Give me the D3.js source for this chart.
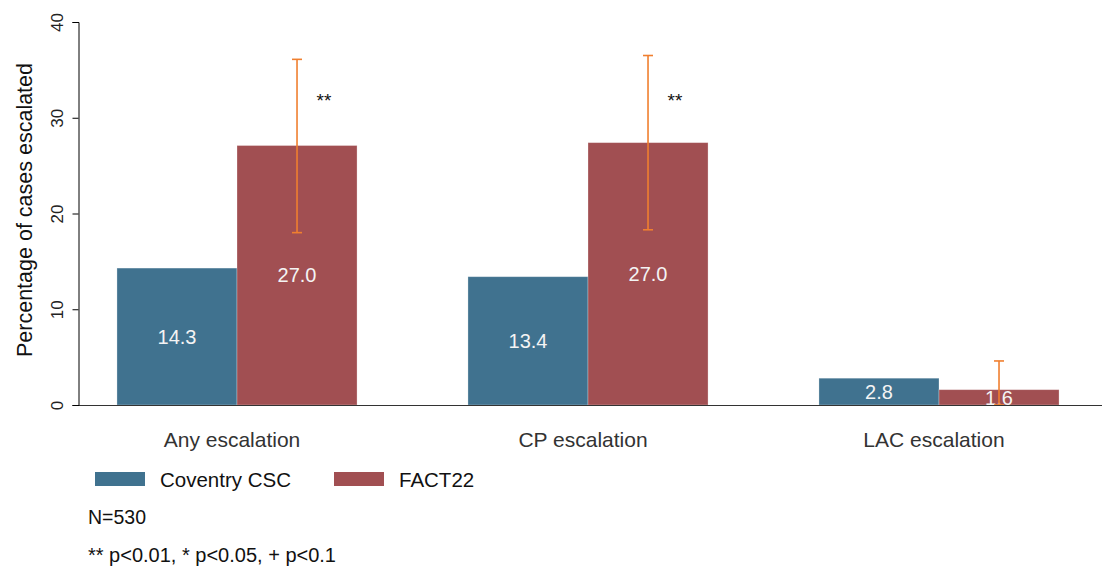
<!DOCTYPE html>
<html>
<head>
<meta charset="utf-8">
<script src="https://cdn.jsdelivr.net/npm/d3@7"></script>
<style>
  body { margin: 0; background: #fff; }
  svg { font-family: "Liberation Sans", Arial, sans-serif; }
</style>
</head>
<body>
<div id="chart"></div>
<script>
const categories = ["Any escalation", "CP escalation", "LAC escalation"];
const seriesNames = ["Coventry CSC", "FACT22"];
const coventry = [14.3, 13.4, 2.8];
const fact22 = [27.1, 27.4, 1.6];
const fact22Labels = ["27.0", "27.0", "1.6"];
const ciLow = [18.0, 18.3, 0.0];
const ciHigh = [36.1, 36.5, 4.6];
const stars = ["**", "**", ""];
const yTicks = [0, 10, 20, 30, 40];

const width = 1102;
const height = 569;
const colors = ["#40728f", "#a14f52"];

const svg = d3.select("#chart")
  .append("svg")
  .attr("width", width)
  .attr("height", height);

const y = d3.scaleLinear().domain([0, 40]).range([405, 22]);

const x = d3.scaleBand()
  .domain(categories)
  .range([78, 1098])
  .paddingInner(0.316)
  .paddingOuter(0.111);

const sub = d3.scaleBand()
  .domain(seriesNames)
  .range([0, x.bandwidth()]);

const rows = categories.map((c, i) => ({
  cat: c,
  vals: [
    { s: seriesNames[0], v: coventry[i], label: coventry[i].toFixed(1) },
    { s: seriesNames[1], v: fact22[i], label: fact22Labels[i] }
  ],
  lo: ciLow[i], hi: ciHigh[i], star: stars[i]
}));

// bars
const groups = svg.selectAll("g.grp")
  .data(rows)
  .enter()
  .append("g")
  .attr("class", "grp")
  .attr("transform", d => `translate(${x(d.cat)},0)`);

groups.selectAll("rect")
  .data(d => d.vals)
  .enter()
  .append("rect")
  .attr("x", d => sub(d.s))
  .attr("y", d => y(d.v))
  .attr("width", sub.bandwidth())
  .attr("height", d => y(0) - y(d.v))
  .attr("fill", (d, i) => colors[i])
  .attr("stroke", "#ffffff")
  .attr("stroke-opacity", 0.35)
  .attr("stroke-width", 0.8);

groups.selectAll("text.val")
  .data(d => d.vals)
  .enter()
  .append("text")
  .attr("class", "val")
  .attr("x", d => sub(d.s) + sub.bandwidth() / 2)
  .attr("y", d => (y(d.v) + y(0)) / 2)
  .attr("dy", "0.36em")
  .attr("text-anchor", "middle")
  .style("font-size", "20px")
  .style("fill", "#f4f4f4")
  .text(d => d.label);

// error bars on FACT22
const ex = sub(seriesNames[1]) + sub.bandwidth() / 2;
groups.append("line")
  .attr("x1", ex).attr("x2", ex)
  .attr("y1", d => y(d.lo)).attr("y2", d => y(d.hi))
  .attr("stroke", "#f07f2f").attr("stroke-width", 1.6);
groups.selectAll("line.cap")
  .data(d => [d.lo, d.hi])
  .enter()
  .append("line")
  .attr("class", "cap")
  .attr("x1", ex - 5).attr("x2", ex + 5)
  .attr("y1", d => y(d)).attr("y2", d => y(d))
  .attr("stroke", "#f07f2f").attr("stroke-width", 1.6);

groups.append("text")
  .attr("x", ex + 27)
  .attr("y", 107)
  .attr("text-anchor", "middle")
  .style("font-size", "19px")
  .style("fill", "#111")
  .text(d => d.star);

// x axis
svg.append("line")
  .attr("x1", 78).attr("x2", width)
  .attr("y1", y(0) + 0.5).attr("y2", y(0) + 0.5)
  .attr("stroke", "#333").attr("stroke-width", 1);

svg.selectAll("text.cat")
  .data(categories)
  .enter()
  .append("text")
  .attr("class", "cat")
  .attr("x", d => x(d) + x.bandwidth() / 2 - 5)
  .attr("y", 447)
  .attr("text-anchor", "middle")
  .style("font-size", "21px")
  .style("fill", "#333")
  .text(d => d);

// y axis
const yAxis = svg.append("g")
  .attr("transform", "translate(78.5,0)")
  .call(d3.axisLeft(y).tickValues(yTicks).tickSize(6).tickFormat(d3.format("d")));
yAxis.select(".domain").attr("stroke", "#000");
yAxis.selectAll(".tick line").attr("stroke", "#000");
yAxis.selectAll(".tick text")
  .attr("transform", "rotate(-90)")
  .attr("x", 0)
  .attr("y", -16)
  .attr("dy", "0")
  .attr("text-anchor", "middle")
  .style("font-size", "17px")
  .style("font-family", "'Liberation Sans', Arial, sans-serif")
  .style("fill", "#222");

svg.append("text")
  .attr("transform", "translate(32,210) rotate(-90)")
  .attr("text-anchor", "middle")
  .style("font-size", "21.5px")
  .style("fill", "#111")
  .text("Percentage of cases escalated");

// legend
const legendX = [95, 334];
const legend = svg.selectAll("g.leg")
  .data(seriesNames)
  .enter()
  .append("g")
  .attr("class", "leg")
  .attr("transform", (d, i) => `translate(${legendX[i]},472)`);
legend.append("rect")
  .attr("width", 50).attr("height", 14)
  .attr("fill", (d, i) => colors[i]);
legend.append("text")
  .attr("x", 65).attr("y", 15)
  .style("font-size", "20.5px")
  .style("fill", "#111")
  .text(d => d);

svg.append("text")
  .attr("x", 88).attr("y", 524)
  .style("font-size", "19.5px")
  .style("fill", "#111")
  .text("N=530");

svg.append("text")
  .attr("x", 88).attr("y", 562)
  .style("font-size", "20px")
  .style("fill", "#111")
  .text("** p<0.01, * p<0.05, + p<0.1");
</script>
</body>
</html>
